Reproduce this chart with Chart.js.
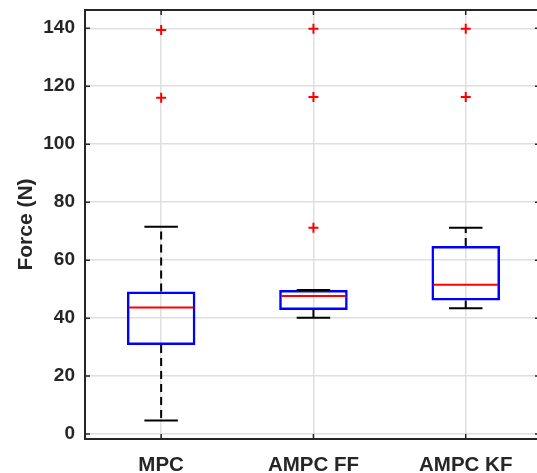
<!DOCTYPE html>
<html>
<head>
<meta charset="utf-8">
<script src="https://cdn.jsdelivr.net/npm/chart.js@4.4.1/dist/chart.umd.min.js"></script>
<style>
  html, body { margin: 0; padding: 0; background: #fff; overflow: hidden; }
  #boxChart { display: block; }
</style>
</head>
<body>
<canvas id="boxChart" width="537" height="473"></canvas>
<script>
// box plot data
const categories = ["MPC", "AMPC FF", "AMPC KF"];
const whiskerLow = [4.7, 40.1, 43.4];
const q1 = [30.7, 42.8, 46.1];
const median = [43.7, 47.6, 51.5];
const q3 = [49.2, 49.7, 64.9];
const whiskerHigh = [71.5, 49.7, 71.2];
const outliers = [[139.4, 116.0], [139.8, 116.3, 71.2], [139.8, 116.3]];
const yTicks = [0, 20, 40, 60, 80, 100, 120, 140];

const axisColor = "#262626";
const boxWidth = 0.45; // in category units
const capWidth = 0.22;

// whiskers, caps, medians, and the frame drawn with the chart scales
const boxPlugin = {
  id: "boxExtras",
  afterDatasetsDraw(chart) {
    const { ctx, scales: { x, y } } = chart;
    ctx.save();
    categories.forEach((c, i) => {
      const cx = x.getPixelForValue(i + 1);
      // dashed whiskers
      ctx.strokeStyle = "#000";
      ctx.lineWidth = 2;
      ctx.setLineDash([8, 5]);
      ctx.beginPath();
      if (whiskerHigh[i] > q3[i]) {
        ctx.moveTo(cx, y.getPixelForValue(q3[i]));
        ctx.lineTo(cx, y.getPixelForValue(whiskerHigh[i]));
      }
      if (whiskerLow[i] < q1[i]) {
        ctx.moveTo(cx, y.getPixelForValue(q1[i]));
        ctx.lineTo(cx, y.getPixelForValue(whiskerLow[i]));
      }
      ctx.stroke();
      ctx.setLineDash([]);
      // caps
      const cl = x.getPixelForValue(i + 1 - capWidth / 2);
      const cr = x.getPixelForValue(i + 1 + capWidth / 2);
      ctx.beginPath();
      [whiskerHigh[i], whiskerLow[i]].forEach(v => {
        const py = y.getPixelForValue(v);
        ctx.moveTo(cl, py);
        ctx.lineTo(cr, py);
      });
      ctx.stroke();
      // median
      const bl = x.getPixelForValue(i + 1 - boxWidth / 2);
      const br = x.getPixelForValue(i + 1 + boxWidth / 2);
      const my = y.getPixelForValue(median[i]);
      ctx.strokeStyle = "#ff0000";
      ctx.beginPath();
      ctx.moveTo(bl + 2, my);
      ctx.lineTo(br - 2, my);
      ctx.stroke();
    });
    ctx.restore();
  },
  afterDraw(chart) {
    const { ctx, chartArea: a, scales: { x, y } } = chart;
    ctx.save();
    ctx.strokeStyle = axisColor;
    ctx.lineWidth = 2;
    // frame: the right edge falls just outside the picture
    ctx.beginPath();
    ctx.moveTo(a.right + 2, a.top);
    ctx.lineTo(a.left, a.top);
    ctx.lineTo(a.left, a.bottom);
    ctx.lineTo(a.right + 2, a.bottom);
    ctx.stroke();
    // inward tick marks
    ctx.lineWidth = 1.5;
    ctx.beginPath();
    yTicks.forEach(v => {
      const py = y.getPixelForValue(v);
      ctx.moveTo(a.left, py); ctx.lineTo(a.left + 5, py);
      ctx.moveTo(a.right, py); ctx.lineTo(a.right - 2, py);
    });
    categories.forEach((c, i) => {
      const px = x.getPixelForValue(i + 1);
      ctx.moveTo(px, a.bottom); ctx.lineTo(px, a.bottom - 5);
      ctx.moveTo(px, a.top); ctx.lineTo(px, a.top + 5);
    });
    ctx.stroke();
    ctx.restore();
  }
};

const ctx = document.getElementById("boxChart").getContext("2d");
new Chart(ctx, {
  type: "bar",
  data: {
    datasets: [
      {
        type: "bar",
        data: categories.map((c, i) => ({ x: i + 1, y: [q1[i], q3[i]] })),
        backgroundColor: "rgba(0,0,0,0)",
        borderColor: "#0000ff",
        borderWidth: 2.5,
        borderSkipped: false,
        categoryPercentage: boxWidth,
        barPercentage: 1
      },
      {
        type: "scatter",
        data: outliers.flatMap((arr, i) => arr.map(v => ({ x: i + 1, y: v }))),
        pointStyle: "cross",
        radius: 5,
        borderColor: "#ff0000",
        borderWidth: 2
      }
    ]
  },
  options: {
    responsive: false,
    animation: false,
    layout: { autoPadding: false, padding: { top: 10, right: 0, left: 0, bottom: 0 } },
    plugins: { legend: { display: false }, tooltip: { enabled: false } },
    scales: {
      x: {
        type: "linear",
        offset: false,
        min: 0.5,
        max: 3.468,
        afterBuildTicks: s => { s.ticks = categories.map((c, i) => ({ value: i + 1 })); },
        afterFit: s => { s.height = 34; s.paddingLeft = 0; s.paddingRight = 0; },
        grid: { color: "#dfdfdf", lineWidth: 1.5, drawTicks: false, offset: false },
        border: { display: false },
        ticks: {
          padding: 14,
          color: axisColor,
          font: { family: "Liberation Sans", size: 20.5, weight: "bold" },
          callback: v => categories[v - 1]
        }
      },
      y: {
        min: -1.7,
        max: 146.3,
        afterBuildTicks: s => { s.ticks = yTicks.map(v => ({ value: v })); },
        afterFit: s => { s.width = 85; s.paddingTop = 0; s.paddingBottom = 0; },
        grid: { color: "#dfdfdf", lineWidth: 1.5, drawTicks: false },
        border: { display: false },
        ticks: {
          padding: 10,
          color: axisColor,
          font: { family: "Liberation Sans", size: 19, weight: "bold" }
        },
        title: {
          display: true,
          text: "Force (N)",
          color: axisColor,
          padding: { top: 14, bottom: 0 },
          font: { family: "Liberation Sans", size: 21, weight: "bold" }
        }
      }
    }
  },
  plugins: [boxPlugin]
});
</script>
</body>
</html>
